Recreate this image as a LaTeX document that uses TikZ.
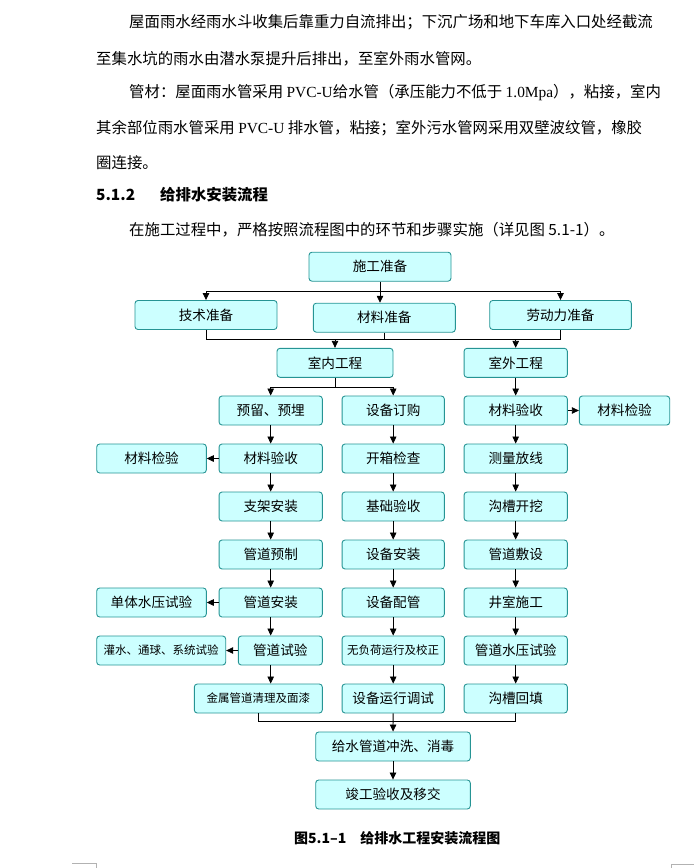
\documentclass[tikz,border=0pt]{standalone}
\usepackage{fontspec}
\setmainfont{Noto Sans CJK SC}
\newfontfamily\latinserif{Liberation Serif}
\usetikzlibrary{arrows.meta,positioning}
\definecolor{boxfill}{RGB}{204,255,255}
\definecolor{boxline}{RGB}{38,148,148}
\XeTeXlinebreaklocale "zh"
\XeTeXlinebreakskip=0pt plus 4pt minus 0.2pt

\begin{document}
\begin{tikzpicture}[x=1pt,y=-1pt,
  box/.style={draw=boxline, fill=boxfill, line width=0.9pt, rounded corners=3pt,
    minimum height=29pt, inner sep=0pt, font=\fontsize{13.6}{15}\selectfont},
  smallbox/.style={box, font=\fontsize{11.5}{13}\selectfont},
  arr/.style={-{Triangle[width=6.5pt,length=7pt]}, line width=0.8pt},
  conn/.style={line width=0.8pt},
  bodyline/.style={anchor=west, inner sep=0pt, font=\fontsize{15.4}{18}\selectfont},
  fullline/.style={bodyline, text width=#1, align=justify}]
  \useasboundingbox (0,0) rectangle (697,868);
  % Text above the chart
  \node[fullline=540pt] (p1) at (129,22.7) {\parfillskip=0pt\relax 屋面雨水经雨水斗收集后靠重力自流排出；下沉广场和地下车库入口处经截流};
  \node[bodyline] (p2) at (96,58.7) {至集水坑的雨水由潜水泵提升后排出，至室外雨水管网。};
  \node[fullline=540pt] (p3) at (129,92.7) {\parfillskip=0pt\relax 管材：屋面雨水管采用 {\latinserif PVC-U}给水管（承压能力不低于 {\latinserif 1.0Mpa}），粘接，室内};
  \node[fullline=573pt] (p4) at (96,127.7) {\parfillskip=0pt\relax 其余部位雨水管采用 {\latinserif PVC-U} 排水管，粘接；室外污水管网采用双壁波纹管，橡胶};
  \node[bodyline] (p5) at (96,162.7) {圈连接。};
  \node[bodyline, font=\fontsize{15.4}{18}\selectfont\bfseries] (hnum) at (96,195) {5.1.2};
  \node[bodyline, font=\fontsize{15.4}{18}\selectfont\bfseries] (htitle) at (160,195) {给排水安装流程};
  \node[bodyline] (p7) at (129,230) {在施工过程中，严格按照流程图中的环节和步骤实施（详见图 5.1-1）。};
  % Preparation
  \node[box, minimum width=142pt] (sgzb) at (380,266.7) {施工准备};
  \node[box, minimum width=142pt] (jszb) at (206,315) {技术准备};
  \node[box, minimum width=142pt] (clzb) at (384.3,317.7) {材料准备};
  \node[box, minimum width=141.6pt] (ldzb) at (560.5,315) {劳动力准备};
  \node[box, minimum width=116pt] (sngc) at (335,362.8) {室内工程};
  \node[box, minimum width=103.3pt] (swgc) at (515.7,362.8) {室外工程};
  % Indoor piping column
  \foreach \txt [count=\i from 0] in {预留、预埋,材料验收,支架安装,管道预制,管道安装}
    \node[box, minimum width=103.3pt] (a\i) at (270.7,410.5+48*\i) {\txt};
  \node[box, minimum width=84pt] (a5) at (280.3,650.5) {管道试验};
  \node[smallbox, minimum width=128pt] (a6) at (258.3,698.5) {金属管道清理及面漆};
  % Equipment column
  \foreach \st/\txt [count=\i from 0] in {box/设备订购,box/开箱检查,box/基础验收,box/设备安装,box/设备配管,smallbox/无负荷运行及校正,box/设备运行调试}
    \node[\st, minimum width=102.3pt] (b\i) at (393.2,410.5+48*\i) {\txt};
  % Outdoor column
  \foreach \txt [count=\i from 0] in {材料验收,测量放线,沟槽开挖,管道敷设,井室施工,管道水压试验,沟槽回填}
    \node[box, minimum width=103.3pt] (c\i) at (515.7,410.5+48*\i) {\txt};
  % Side checks
  \node[box, minimum width=90.4pt] (jyR) at (624.5,410.5) {材料检验};
  \node[box, minimum width=109.6pt] (jyL) at (151.5,458.5) {材料检验};
  \node[box, minimum width=109.6pt] (dtsy) at (151.5,602.5) {单体水压试验};
  \node[smallbox, minimum width=129pt] (gssy) at (161.2,650.5) {灌水、通球、系统试验};
  % Final steps
  \node[box, minimum width=154.6pt] (cxxd) at (393,746.5) {给水管道冲洗、消毒};
  \node[box, minimum width=154.6pt] (jgys) at (393,794.5) {竣工验收及移交};
  % Branching lines
  \coordinate (bar1) at (380,291.3);
  \coordinate (bar2) at (380,339.3);
  \coordinate (bar3) at (335,387.3);
  \coordinate (bar4) at (393,721.7);
  \draw[arr] (sgzb.south) -- (sgzb.south |- clzb.north);
  \draw[arr] (bar1) -| (jszb.north);
  \draw[arr] (bar1) -| (ldzb.north);
  \draw[conn] (jszb.south) |- (bar2 -| ldzb) -- (ldzb.south);
  \draw[conn] (clzb.south) -- (clzb.south |- bar2);
  \draw[arr] (bar2 -| sngc) -- (sngc.north);
  \draw[arr] (bar2 -| swgc) -- (swgc.north);
  \draw[conn] (sngc.south) -- (bar3);
  \draw[arr] (bar3) -| (a0.north);
  \draw[arr] (bar3) -| (b0.north);
  \draw[arr] (swgc) -- (c0);
  % Column arrows
  \foreach \i/\j in {0/1,1/2,2/3,3/4}
    \draw[arr] (a\i) -- (a\j);
  \draw[arr] (a4.south) -- (a4.south |- a5.north);
  \draw[arr] (a5.south -| a4) -- (a6.north -| a4);
  \foreach \i/\j in {0/1,1/2,2/3,3/4,4/5,5/6} {
    \draw[arr] (b\i) -- (b\j);
    \draw[arr] (c\i) -- (c\j);
  }
  \draw[arr] (c0) -- (jyR);
  \draw[arr] (a1) -- (jyL);
  \draw[arr] (a4) -- (dtsy);
  \draw[arr] (a5) -- (gssy);
  % Merge into flushing
  \draw[conn] (a6.south) |- (bar4);
  \draw[conn] (c6.south) |- (bar4);
  \draw[arr] (b6) -- (cxxd);
  \draw[arr] (cxxd) -- (jgys);
  % Caption
  \node[anchor=west, inner sep=0pt, font=\fontsize{14}{16}\selectfont\bfseries] (cap) at (294,837.7) {图5.1–1\quad 给排水工程安装流程图};
  % Page corner marks
  \draw[gray!60, line width=0.6pt] (72,863.5) -- (96.5,863.5) -- (96.5,868);
  \draw[gray!60, line width=0.6pt] (671,868) -- (671,864.5) -- (694,864.5);
\end{tikzpicture}
\end{document}
